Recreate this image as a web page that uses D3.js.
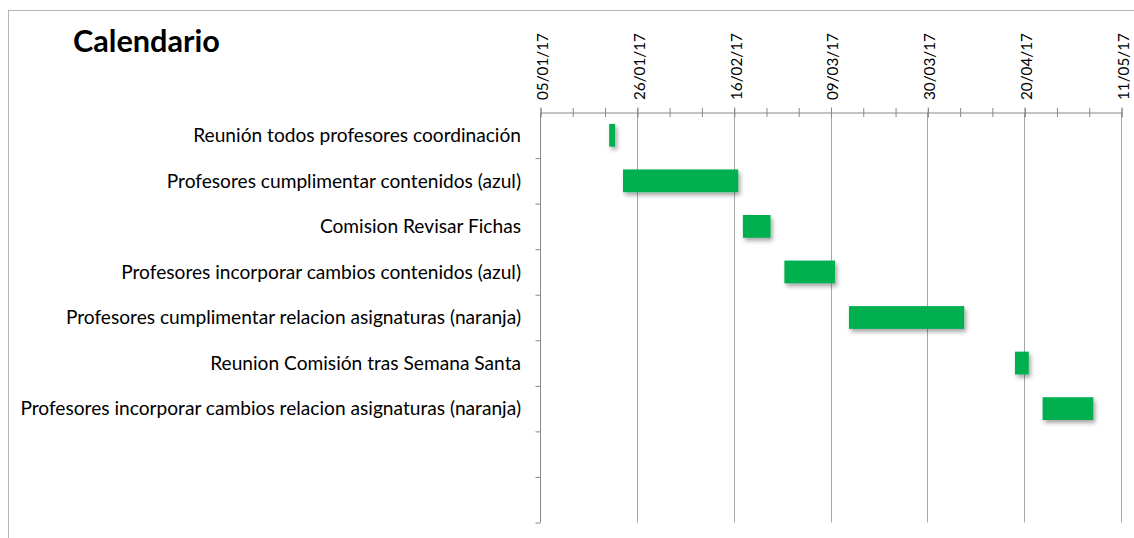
<!DOCTYPE html>
<html>
<head>
<meta charset="utf-8">
<script src="https://cdn.jsdelivr.net/npm/d3@7"></script>
<style>
  html, body { margin: 0; padding: 0; background: #fff; }
  svg { display: block; }
  text { font-family: Lato, "Open Sans", sans-serif; fill: #000; }
</style>
</head>
<body>
<svg id="chart" width="1134" height="538"></svg>
<script>
// ---- data ----
const title = "Calendario";
const tasks = [
  "Reunión todos profesores coordinación",
  "Profesores cumplimentar contenidos (azul)",
  "Comision Revisar Fichas",
  "Profesores incorporar cambios contenidos (azul)",
  "Profesores cumplimentar relacion asignaturas (naranja)",
  "Reunion Comisión tras Semana Santa",
  "Profesores incorporar cambios relacion asignaturas (naranja)",
  "",
  ""
];
const startDates = ["2017-01-20", "2017-01-23", "2017-02-18", "2017-02-27", "2017-03-13", "2017-04-18", "2017-04-24"];
const durations = [1.3, 25, 6, 11, 25, 3, 11];
const axisStart = "2017-01-05";
const axisEnd = "2017-05-11";
const majorTickLabels = ["05/01/17", "26/01/17", "16/02/17", "09/03/17", "30/03/17", "20/04/17", "11/05/17"];

// ---- layout ----
const svg = d3.select("#chart");
const parse = d3.timeParse("%Y-%m-%d");
const plot = { left: 540, right: 1121, top: 112.5, bottom: 522.5 };

const x = d3.scaleTime().domain([parse(axisStart), parse(axisEnd)]).range([plot.left, plot.right]);
const y = d3.scaleBand().domain(d3.range(tasks.length)).range([plot.top, plot.bottom]).padding(0);
const yLin = d3.scaleLinear().domain([0, tasks.length]).range([plot.top, plot.bottom]);

const majorTicks = majorTickLabels.map(s => d3.timeParse("%d/%m/%y")(s));
const minorTicks = d3.timeDay.range(parse(axisStart), d3.timeDay.offset(parse(axisEnd), 1), 1)
  .filter((d, i) => i % 7 === 0);

// defs: shadow
const defs = svg.append("defs");
const f = defs.append("filter").attr("id", "shadow").attr("x", "-20%").attr("y", "-30%").attr("width", "160%").attr("height", "180%");
f.append("feDropShadow").attr("dx", 2).attr("dy", 3).attr("stdDeviation", 2).attr("flood-color", "#000").attr("flood-opacity", 0.35);

// chart border
svg.append("rect").attr("x", 8.5).attr("y", 10.5).attr("width", 1140).attr("height", 540)
  .attr("fill", "none").attr("stroke", "#b4b4b4").attr("stroke-width", 1);

// title
const titleText = svg.append("text").attr("x", 73).attr("y", 52)
  .attr("font-weight", "bold").attr("font-size", 28).text(title);
const tw = titleText.node().getComputedTextLength();
titleText.attr("font-size", 28 * 147 / tw);

// gridlines
svg.append("g").selectAll("line").data(majorTicks.slice(1)).join("line")
  .attr("x1", d => Math.round(x(d)) + 0.5).attr("x2", d => Math.round(x(d)) + 0.5)
  .attr("y1", plot.top).attr("y2", plot.bottom)
  .attr("stroke", "#a6a6a6").attr("stroke-width", 1);

// x axis minor
const gMinor = svg.append("g").attr("transform", `translate(0.5,${plot.top})`)
  .call(d3.axisTop(x).tickValues(minorTicks).tickSize(0).tickFormat(""));
gMinor.select(".domain").attr("stroke", "#898989");
gMinor.selectAll(".tick line").attr("y1", -4.5).attr("y2", 4.5).attr("stroke", "#898989");

// x axis major with labels
const gMajor = svg.append("g").attr("transform", `translate(0.5,${plot.top})`)
  .call(d3.axisTop(x).tickValues(majorTicks).tickSize(0).tickFormat((d, i) => majorTickLabels[i]));
gMajor.select(".domain").remove();
gMajor.selectAll(".tick line").attr("y1", -5).attr("y2", 5).attr("stroke", "#898989");
const labs = gMajor.selectAll(".tick text")
  .attr("transform", "rotate(-90)")
  .attr("text-anchor", "start")
  .attr("x", 12.5).attr("y", 1.5).attr("dy", "0.35em")
  .attr("font-size", 16).attr("fill", "#000")
  .style("font-family", "Lato, 'Open Sans', sans-serif");
const lw = labs.nodes()[0].getComputedTextLength();
labs.attr("font-size", 16 * 67 / lw);

// y axis (boundary ticks)
const gy = svg.append("g").attr("transform", `translate(${plot.left + 0.5},0)`)
  .call(d3.axisLeft(yLin).tickValues(d3.range(1, tasks.length + 1)).tickSize(5).tickFormat(""));
gy.select(".domain").attr("stroke", "#898989").attr("d", `M0,${plot.top}V${plot.bottom}`);
gy.selectAll(".tick line").attr("stroke", "#898989");

// category labels
const catLabels = svg.append("g").selectAll("text").data(tasks).join("text")
  .attr("x", 521).attr("y", (d, i) => y(i) + y.bandwidth() / 2)
  .attr("dy", "0.35em").attr("text-anchor", "end").attr("font-size", 17).text(d => d);
const longest = d3.max(catLabels.nodes(), n => n.getComputedTextLength());
catLabels.attr("font-size", 17 * 501 / longest);

// bars
const barH = y.bandwidth() * 0.5;
svg.append("g").attr("filter", "url(#shadow)").selectAll("rect").data(startDates).join("rect")
  .attr("x", d => x(parse(d)))
  .attr("width", (d, i) => x(d3.timeHour.offset(parse(d), Math.round(durations[i] * 24))) - x(parse(d)))
  .attr("y", (d, i) => y(i) + (y.bandwidth() - barH) / 2)
  .attr("height", barH)
  .attr("fill", "#00b050");
</script>
</body>
</html>
